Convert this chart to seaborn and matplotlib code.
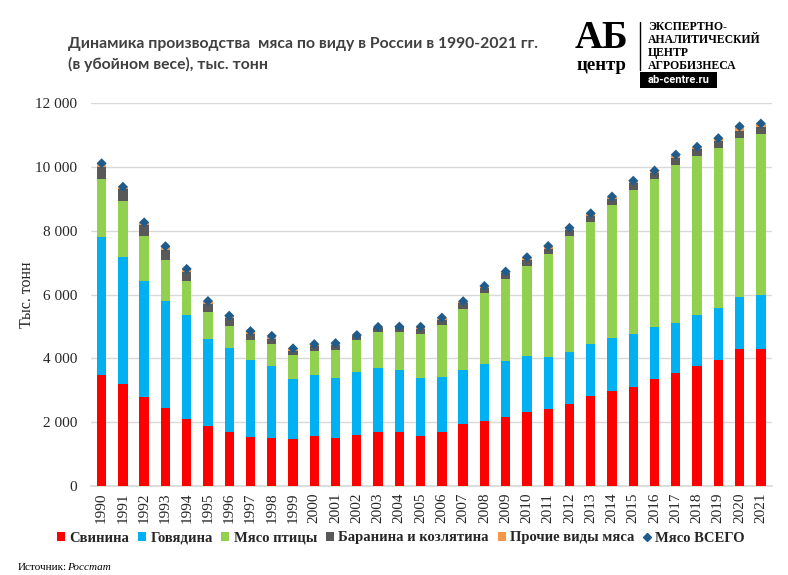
import numpy as np
import pandas as pd
import matplotlib
matplotlib.use("Agg")
import matplotlib.pyplot as plt
import seaborn as sns
from matplotlib.patches import Patch, Rectangle
from matplotlib.lines import Line2D
from matplotlib.ticker import FuncFormatter

years = [str(y) for y in range(1990, 2022)]
pork = [3480, 3190, 2784, 2432, 2103, 1865, 1705, 1546, 1505, 1485, 1578, 1498, 1608, 1706, 1686, 1569,
        1699, 1929, 2042, 2169, 2331, 2428, 2559, 2816, 2974, 3099, 3368, 3531, 3745, 3946, 4282, 4295]
beef = [4329, 3989, 3632, 3359, 3240, 2733, 2630, 2395, 2247, 1868, 1898, 1872, 1957, 1989, 1954, 1809,
        1723, 1699, 1769, 1741, 1727, 1625, 1642, 1633, 1654, 1649, 1619, 1585, 1608, 1629, 1633, 1680]
poultry = [1801, 1751, 1428, 1277, 1068, 859, 690, 630, 690, 748, 768, 902, 1001, 1129, 1195, 1388,
           1619, 1925, 2222, 2567, 2847, 3204, 3625, 3831, 4161, 4536, 4621, 4946, 4988, 5015, 4990, 5060]
lamb = [395, 380, 328, 337, 287, 261, 230, 192, 161, 144, 140, 134, 135, 138, 144, 154,
        161, 174, 178, 183, 185, 180, 190, 190, 203, 203, 211, 222, 223, 215, 220, 222]
other = [107, 65, 88, 108, 105, 78, 81, 91, 101, 68, 62, 71, 29, 23, 16, 70,
         75, 63, 57, 59, 77, 83, 74, 74, 78, 78, 64, 100, 65, 93, 143, 100]

names = ["Свинина", "Говядина", "Мясо птицы", "Баранина и козлятина", "Прочие виды мяса"]
colors = ["#FF0000", "#00B0F0", "#92D050", "#595959", "#F79646"]
total_name = "Мясо ВСЕГО"
total_color = "#1F5C8B"

df = pd.DataFrame({"year": years, names[0]: pork, names[1]: beef, names[2]: poultry,
                   names[3]: lamb, names[4]: other})
series = names
cum = df[series].cumsum(axis=1)
df["total"] = cum[names[-1]]

sns.set_theme(style="white")
serif = ["Liberation Serif", "DejaVu Serif"]

fig = plt.figure(figsize=(7.88, 5.75), dpi=100)
ax = fig.add_axes([91 / 788, 1 - 486 / 575, (771.5 - 91) / 788, (486 - 103) / 575])

# draw cumulative bars from top down so each layer shows as a stacked segment
for name, col in reversed(list(zip(series, colors))):
    sns.barplot(x=df["year"], y=cum[name], color=col, width=0.44, ax=ax,
                saturation=1, linewidth=0, zorder=3)

sns.scatterplot(x=np.arange(len(years)), y=df["total"], marker="D", s=26, color=total_color,
                edgecolor="none", ax=ax, zorder=5, legend=False)

ax.set_xlim(-0.5, len(years) - 0.5)
ax.set_ylim(0, 12000)
ax.set_yticks(np.arange(0, 12001, 2000))
ax.yaxis.set_major_formatter(FuncFormatter(lambda v, p: f"{int(v):,}".replace(",", " ")))
ax.grid(axis="y", color="#D9D9D9", linewidth=1, zorder=0)
ax.set_axisbelow(True)
for s in ["left", "right", "top"]:
    ax.spines[s].set_visible(False)
ax.spines["bottom"].set_color("#D9D9D9")
ax.tick_params(axis="both", length=0)
ax.tick_params(axis="y", pad=10)
ax.tick_params(axis="x", pad=5)
ax.set_xlabel("")
ax.set_ylabel("Тыс. тонн", fontsize=11.5, family=serif, color="#262626")
ax.yaxis.set_label_coords(-(91 - 35) / 680.5, 0.5)
for lab in ax.get_yticklabels():
    lab.set_family(serif)
    lab.set_fontsize(11)
    lab.set_color("#262626")
for lab in ax.get_xticklabels():
    lab.set_family(serif)
    lab.set_fontsize(11)
    lab.set_rotation(90)
    lab.set_color("#262626")

# legend
handles = [Patch(facecolor=c, edgecolor="none") for c in colors]
handles.append(Line2D([], [], marker="D", color=total_color, linestyle="none", markersize=4.5))
leg = fig.legend(handles, names + [total_name], loc="center", bbox_to_anchor=(401 / 788, 1 - 538 / 575),
                 ncol=6, frameon=False, handlelength=0.55, handleheight=0.55, handletextpad=0.3,
                 columnspacing=0.6, prop={"family": serif, "weight": "bold", "size": 10.5})

# title
fig.text(68 / 788, 1 - 44 / 575, "Динамика производства  мяса по виду в России в 1990-2021 гг.",
         fontsize=11.3, family="Lato", weight="bold", color="#404040", va="center", ha="left")
fig.text(68 / 788, 1 - 64 / 575, "(в убойном весе), тыс. тонн",
         fontsize=11.3, family="Lato", weight="bold", color="#404040", va="center", ha="left")

# logo
fig.text(601 / 788, 1 - 38 / 575, "АБ", fontsize=28, family=serif, weight="bold", color="black",
         ha="center", va="center")
fig.text(601 / 788, 1 - 66 / 575, "центр", fontsize=13.5, family=serif, weight="bold", color="black",
         ha="center", va="center")
fig.add_artist(Line2D([640 / 788, 640 / 788], [1 - 22 / 575, 1 - 70 / 575], color="black", linewidth=1))
for i, t in enumerate(["ЭКСПЕРТНО-", "АНАЛИТИЧЕСКИЙ", "ЦЕНТР", "АГРОБИЗНЕСА"]):
    fig.text(648 / 788, 1 - (27 + 13 * i) / 575, t, fontsize=8.5, family=serif, weight="bold",
             color="black", ha="left", va="center")
fig.add_artist(Rectangle((640 / 788, 1 - 88 / 575), 77 / 788, 16 / 575, facecolor="black",
                         edgecolor="none", transform=fig.transFigure))
fig.text(678.5 / 788, 1 - 80 / 575, "ab-centre.ru", fontsize=8, family="Roboto", weight="bold",
         color="white", ha="center", va="center")

# source
fig.text(18 / 788, 1 - 567 / 575, "Источник:", fontsize=8, family=serif, color="black",
         ha="left", va="center")
fig.text(67 / 788, 1 - 567 / 575, "Росстат", fontsize=8, family=serif, style="italic",
         color="black", ha="left", va="center")

fig.savefig("out.png", dpi=100)
